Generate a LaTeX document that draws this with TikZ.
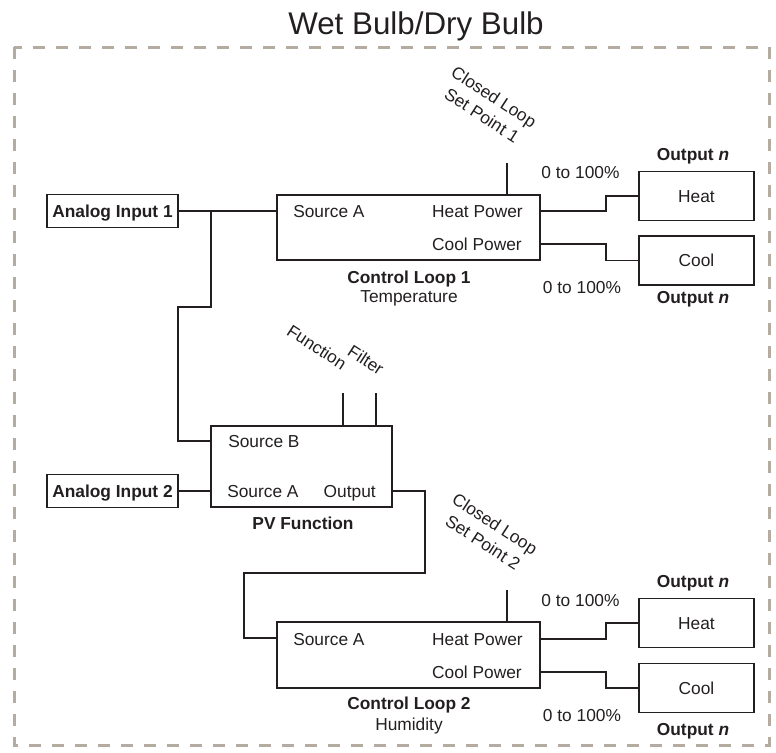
\documentclass[tikz,border=0pt]{standalone}
\usepackage{fontspec}
\setmainfont{Liberation Sans}
\definecolor{ink}{RGB}{35,31,32}
\definecolor{framegray}{RGB}{180,172,160}
\newcommand{\txtsize}{\fontsize{13}{14.5}\selectfont}

\begin{document}
\begin{tikzpicture}[x=0.75pt, y=-0.75pt, text=ink,
  blk/.style={draw=ink, line width=0.9pt, inner sep=0pt, text height=9.3pt, text depth=0pt, font=\txtsize},
  inbox/.style={blk, minimum width=98.25pt, minimum height=24.75pt, font=\txtsize\bfseries},
  outbox/.style={blk, minimum width=86.25pt, minimum height=36.75pt},
  wire/.style={draw=ink, line width=0.9pt},
  lbl/.style={inner sep=0pt, font=\txtsize},
  bold/.style={lbl, font=\txtsize\bfseries},
  tilt/.style={inner sep=0pt, font=\fontsize{13}{16.5}\selectfont, rotate=-33, align=center},
  frame/.style={draw=framegray, line width=2.25pt, dash pattern=on 9pt off 8.25pt}]
  \useasboundingbox (0,0) rectangle (776,753);

  \node[lbl, anchor=base, font=\fontsize{23.5}{28}\selectfont] (title) at (416,35) {Wet Bulb/Dry Bulb};
  \draw[frame] (14,47) rectangle (769,745);

  \node[inbox] (ai1) at (112.5,211) {Analog Input 1};
  \node[inbox] (ai2) at (112.5,491) {Analog Input 2};
  \node[blk, minimum width=197.25pt, minimum height=48.75pt] (cl1) at (408.5,227.5) {};
  \node[blk, minimum width=197.25pt, minimum height=49.5pt] (cl2) at (408.5,655) {};
  \node[blk, minimum width=135.75pt, minimum height=60.75pt] (pv) at (301.5,466.5) {};
  \node[outbox] (heat1) at (696.5,196) {Heat};
  \node[outbox] (cool1) at (696.5,260.5) {Cool};
  \node[outbox] (heat2) at (696.5,623) {Heat};
  \node[outbox] (cool2) at (696.5,688) {Cool};

  \node[lbl, anchor=base west] (cl1a) at (293,217) {Source A};
  \node[lbl, anchor=base east] (cl1h) at (523,217) {Heat Power};
  \node[lbl, anchor=base east] (cl1c) at (522,250) {Cool Power};
  \node[lbl, anchor=base west] (pvb) at (228,447) {Source B};
  \node[lbl, anchor=base west] (pva) at (227,497) {Source A};
  \node[lbl, anchor=base east] (pvo) at (376,497) {Output};
  \node[lbl, anchor=base west] (cl2a) at (293,645) {Source A};
  \node[lbl, anchor=base east] (cl2h) at (523,645) {Heat Power};
  \node[lbl, anchor=base east] (cl2c) at (522,678) {Cool Power};

  \node[bold, anchor=base] (cl1t) at (409,283) {Control Loop 1};
  \node[lbl, anchor=base] (cl1s) at (409,302) {Temperature};
  \node[bold, anchor=base] (pvt) at (303,529) {PV Function};
  \node[bold, anchor=base] (cl2t) at (409,709) {Control Loop 2};
  \node[lbl, anchor=base] (cl2s) at (409,730) {Humidity};

  \node[bold, anchor=base] (on1) at (693,160) {Output \textit{n}};
  \node[bold, anchor=base] (on2) at (693,303) {Output \textit{n}};
  \node[bold, anchor=base] (on3) at (693,587) {Output \textit{n}};
  \node[bold, anchor=base] (on4) at (693,735) {Output \textit{n}};
  \node[lbl, anchor=base] (pc1) at (580.5,178) {0 to 100\%};
  \node[lbl, anchor=base] (pc2) at (582,293) {0 to 100\%};
  \node[lbl, anchor=base] (pc3) at (580.5,606) {0 to 100\%};
  \node[lbl, anchor=base] (pc4) at (582,721) {0 to 100\%};

  \node[tilt] (sp1t) at (488,106) {Closed Loop\\Set Point 1};
  \node[tilt] (sp2t) at (489,533) {Closed Loop\\Set Point 2};
  \node[tilt] (fnt) at (317,347) {Function};
  \node[tilt] (flt) at (366,360) {Filter};

  \coordinate (pvB) at (211,441);
  \coordinate (pvO) at (392,491);
  \coordinate (cl2A) at (277,638);
  \coordinate (cl1H) at (540,211);
  \coordinate (cl1C) at (540,244);
  \coordinate (cl2H) at (540,639);
  \coordinate (cl2C) at (540,672);
  \coordinate (sp1) at (507,163);
  \coordinate (sp2) at (507,590);
  \coordinate (fn) at (343,393);
  \coordinate (fl) at (376,393);

  \draw[wire] (ai1.east) -- (ai1.east -| cl1.west);
  \draw[wire] (ai1.east -| pvB) |- (178,307) |- (pvB);
  \draw[wire] (ai2.east) -- (ai2.east -| pv.west);
  \draw[wire] (pvO) -| (425,573) -| (244,638) -- (cl2A);
  \draw[wire] (cl1H) -- ++(66,0) |- (heat1.west);
  \draw[wire] (cl1C) -- ++(66,0) |- (cool1.west);
  \draw[wire] (cl2H) -- ++(66,0) |- (heat2.west);
  \draw[wire] (cl2C) -- ++(66,0) |- (cool2.west);
  \draw[wire] (sp1) -- (sp1 |- cl1.north);
  \draw[wire] (sp2) -- (sp2 |- cl2.north);
  \draw[wire] (fn) -- (fn |- pv.north);
  \draw[wire] (fl) -- (fl |- pv.north);
\end{tikzpicture}
\end{document}
